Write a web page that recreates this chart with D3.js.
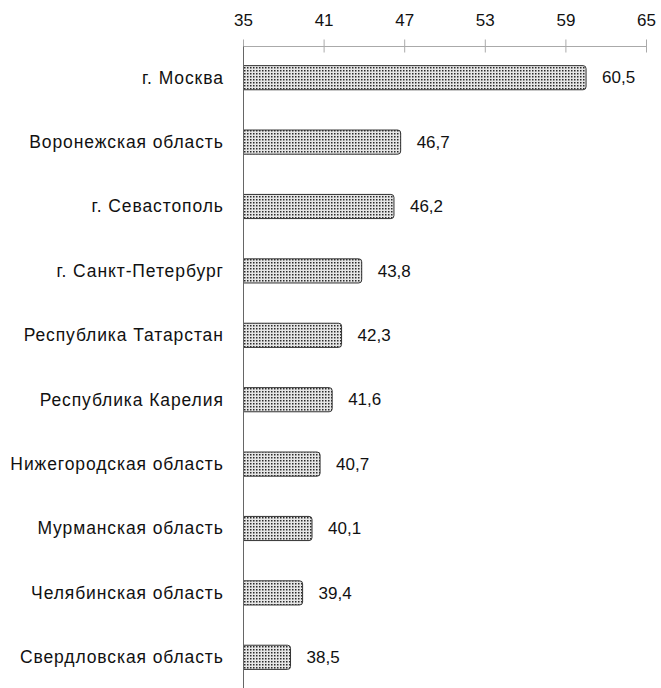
<!DOCTYPE html>
<html>
<head>
<meta charset="utf-8">
<script src="https://d3js.org/d3.v7.min.js"></script>
<style>
  body { margin: 0; background: #fff; }
  * { font-family: "Liberation Sans", Arial, sans-serif; }
  .label { font-size: 17px; fill: #111; }
  .cat { font-size: 17.5px; letter-spacing: 0.9px; }
  .tick-label { font-size: 17px; fill: #111; }
</style>
</head>
<body>
<script>
  // data
  const regions = ["г. Москва", "Воронежская область", "г. Севастополь", "г. Санкт-Петербург",
    "Республика Татарстан", "Республика Карелия", "Нижегородская область",
    "Мурманская область", "Челябинская область", "Свердловская область"];
  const values = [60.5, 46.7, 46.2, 43.8, 42.3, 41.6, 40.7, 40.1, 39.4, 38.5];
  const ticks = [35, 41, 47, 53, 59, 65];

  const width = 661, height = 688;
  const svg = d3.select("body").append("svg")
    .attr("width", width)
    .attr("height", height);

  // dotted fill
  const pat = svg.append("defs").append("pattern")
    .attr("id", "dots")
    .attr("patternUnits", "userSpaceOnUse")
    .attr("width", 3).attr("height", 3);
  pat.append("rect").attr("width", 3).attr("height", 3).attr("fill", "#e6e6e6");
  pat.append("rect").attr("x", 1).attr("y", 1).attr("width", 1.5).attr("height", 1.5).attr("fill", "#2a2a2a");

  const x = d3.scaleLinear().domain([35, 65]).range([243.5, 646.5]);
  const y = d3.scaleBand().domain(regions).range([45, 689])
    .paddingInner(0.625).paddingOuter(0.3125);

  const axisY = 46.5;

  // top axis
  svg.append("line")
    .attr("x1", x(35)).attr("x2", x(65))
    .attr("y1", axisY).attr("y2", axisY)
    .attr("stroke", "#aaa");
  svg.selectAll(".tk").data(ticks).enter().append("line")
    .attr("x1", d => x(d)).attr("x2", d => x(d))
    .attr("y1", axisY - 7).attr("y2", axisY + 6)
    .attr("stroke", "#aaa");
  svg.selectAll(".tick-label").data(ticks).enter().append("text")
    .attr("class", "tick-label")
    .attr("x", d => x(d)).attr("y", 26)
    .attr("text-anchor", "middle")
    .text(d => d);

  // bars
  svg.selectAll(".bar").data(values).enter().append("path")
    .attr("d", (d, i) => {
      const x0 = x(35), x1 = x(d), y0 = y(regions[i]) + 0.5, h = y.bandwidth(), r = 3;
      return `M${x0},${y0}H${x1 - r}Q${x1},${y0} ${x1},${y0 + r}V${y0 + h - r}Q${x1},${y0 + h} ${x1 - r},${y0 + h}H${x0}Z`;
    })
    .attr("fill", "url(#dots)")
    .attr("stroke", "#333")
    .attr("stroke-width", 1);

  // vertical axis line
  svg.append("line")
    .attr("x1", x(35)).attr("x2", x(35))
    .attr("y1", axisY).attr("y2", height)
    .attr("stroke", "#666");

  // category labels
  svg.selectAll(".label.cat").data(regions).enter().append("text")
    .attr("class", "label cat")
    .attr("x", 223.8)
    .attr("y", d => y(d) + y.bandwidth() / 2)
    .attr("dy", "0.36em")
    .attr("text-anchor", "end")
    .text(d => d);

  // value labels
  svg.selectAll(".label.val").data(values).enter().append("text")
    .attr("class", "label val")
    .attr("x", d => x(d) + 16)
    .attr("y", (d, i) => y(regions[i]) + y.bandwidth() / 2)
    .attr("dy", "0.36em")
    .text(d => d3.format(".1f")(d).replace(".", ","));
</script>
</body>
</html>
